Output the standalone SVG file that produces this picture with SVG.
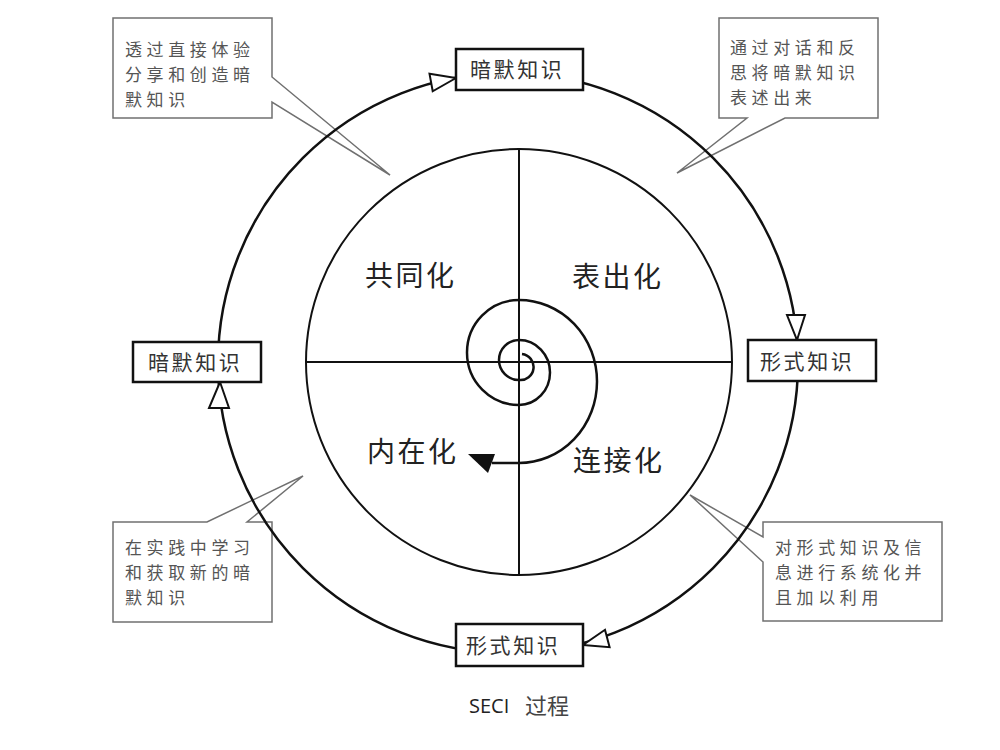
<svg xmlns="http://www.w3.org/2000/svg" width="1000" height="750" viewBox="0 0 1000 750">
<style>
.callout{fill:#fff;stroke:#707070;stroke-width:1.5}
.ctext{font-family:"Noto Sans CJK SC","Noto Sans",sans-serif;font-size:17px;letter-spacing:4.6px;fill:#555}
.box{fill:#fff;stroke:#111;stroke-width:2.5}
.btext{font-family:"Noto Sans CJK SC","Noto Sans",sans-serif;font-size:21px;letter-spacing:2.6px;fill:#333}
.qtext{font-family:"Noto Sans CJK SC","Noto Sans",sans-serif;font-size:28px;letter-spacing:2.5px;fill:#222}
.line{fill:none;stroke:#111;stroke-width:2.5}
.thin{fill:none;stroke:#111;stroke-width:2}
.arrow{fill:#fff;stroke:#111;stroke-width:2;stroke-linejoin:miter}
</style>
<rect width="1000" height="750" fill="#fff"/>
<g id="callout-socialization">
<path class="callout" d="M113 18 H272 V77 L390 175 L272 102 V118 H113 Z"/>
<text class="ctext" x="125" y="56">透过直接体验</text>
<text class="ctext" x="125" y="81">分享和创造暗</text>
<text class="ctext" x="125" y="106">默知识</text>
</g>
<g id="callout-externalization">
<path class="callout" d="M719 18 H878 V118 H785 L677 173 L747 118 H719 Z"/>
<text class="ctext" x="730" y="54">通过对话和反</text>
<text class="ctext" x="730" y="79">思将暗默知识</text>
<text class="ctext" x="730" y="104">表述出来</text>
</g>
<g id="callout-internalization">
<path class="callout" d="M113 522 H207 L303 476 L247 522 H272 V622 H113 Z"/>
<text class="ctext" x="125" y="554">在实践中学习</text>
<text class="ctext" x="125" y="579">和获取新的暗</text>
<text class="ctext" x="125" y="604">默知识</text>
</g>
<g id="callout-combination">
<path class="callout" d="M763 522 H942 V621 H763 V562 L690 495 L763 537 Z"/>
<text class="ctext" x="775" y="554">对形式知识及信</text>
<text class="ctext" x="775" y="579">息进行系统化并</text>
<text class="ctext" x="775" y="604">且加以利用</text>
</g>
<g id="connectors">
<circle class="line" cx="508" cy="363" r="290"/>
<polygon class="arrow" points="456,78 432.7,91.3 429.5,73.7"/>
<polygon class="arrow" points="797,340 805,315 787,315"/>
<polygon class="arrow" points="583,645 609.6,647.2 605,629.8"/>
<polygon class="arrow" points="220,382 229,408 209,408"/>
</g>
<g id="inner-circle">
<circle class="thin" cx="519" cy="362" r="213"/>
<line class="thin" x1="519" y1="149" x2="519" y2="575"/>
<line class="thin" x1="306" y1="362" x2="732" y2="362"/>
</g>
<g id="spiral">
<path class="line" d="M522 354 A13 13 0 0 1 519 380 A20 20 0 0 1 519 340 A31 32.5 0 0 1 519 405 A52 52.5 0 0 1 519 300 A78 81.5 0 0 1 519 463 L492 463"/>
<polygon points="468,454 495,454 488,473" fill="#111"/>
</g>
<g id="quadrant-socialization"><text class="qtext" x="365" y="286">共同化</text></g>
<g id="quadrant-externalization"><text class="qtext" x="572" y="287">表出化</text></g>
<g id="quadrant-internalization"><text class="qtext" x="367" y="462">内在化</text></g>
<g id="quadrant-combination"><text class="qtext" x="573" y="471">连接化</text></g>
<g id="node-tacit-top">
<rect class="box" x="456" y="49" width="127" height="41"/>
<text class="btext" x="470" y="77">暗默知识</text>
</g>
<g id="node-explicit-right">
<rect class="box" x="748" y="340" width="128" height="41"/>
<text class="btext" x="760" y="369">形式知识</text>
</g>
<g id="node-explicit-bottom">
<rect class="box" x="456" y="624" width="127" height="42"/>
<text class="btext" x="466" y="653">形式知识</text>
</g>
<g id="node-tacit-left">
<rect class="box" x="133" y="342" width="128" height="40"/>
<text class="btext" x="148" y="370">暗默知识</text>
</g>
<g id="caption">
<text font-family="'Open Sans','Noto Sans',sans-serif" font-size="20" fill="#222" x="469" y="713">SECI</text>
<text font-family="'Noto Sans CJK SC',sans-serif" font-size="22" fill="#444" x="525" y="714">过程</text>
</g>
</svg>
